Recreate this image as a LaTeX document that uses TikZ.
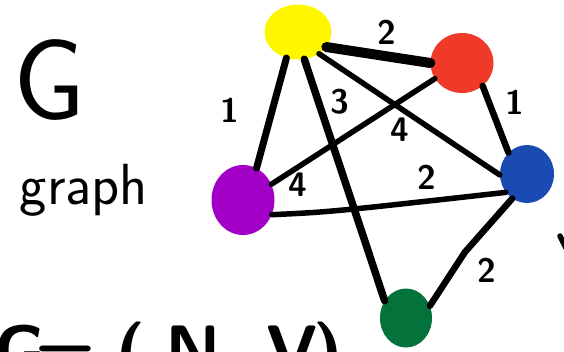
\documentclass[tikz,border=0pt]{standalone}
\usetikzlibrary{shapes.geometric}
\definecolor{blobyellow}{HTML}{FFF700}
\definecolor{blobred}{HTML}{EE3A26}
\definecolor{blobblue}{HTML}{1A4BB2}
\definecolor{blobpurple}{HTML}{A200C6}
\definecolor{blobgreen}{HTML}{03723B}

\begin{document}
\begin{tikzpicture}[x=1pt,y=-1pt,
      blob/.style={ellipse,inner sep=0pt},
      edge/.style={line width=5.5pt,line cap=round},
      wlabel/.style={font=\fontsize{34}{34}\selectfont\sffamily\bfseries}]
    \useasboundingbox (0,0) rectangle (564,352);
    \clip (0,0) rectangle (564,352);
    % title text
    \node (gsym) at (50,80) {\fontsize{115}{115}\selectfont\sffamily G};
    \node (gword) at (84,190) {\fontsize{58}{58}\selectfont\sffamily graph};
    \node[anchor=base west,inner sep=0pt] (gdef) at (-6,374) {\fontsize{70}{70}\selectfont\sffamily\bfseries
      G\hspace{-10pt}=\hspace{20pt}(\hspace{20pt}N\hspace{12pt},\hspace{12pt}V\hspace{-4pt})};
    % vertices
    \node[blob,fill=blobyellow,minimum width=67pt,minimum height=55pt] (yel) at (298,32) {};
    \node[blob,fill=blobred,minimum width=63pt,minimum height=60pt] (red) at (462,63) {};
    \node[blob,fill=blobblue,minimum width=54pt,minimum height=58pt] (blu) at (527,174) {};
    \node[blob,fill=blobpurple,minimum width=63pt,minimum height=70pt] (pur) at (243,200) {};
    \node[blob,fill=blobgreen,minimum width=52pt,minimum height=59pt] (grn) at (406,318) {};
    % edges
    \draw[edge,line width=10pt] (yel.-28) -- (red.180);
    \draw[edge,line width=7pt] (yel.-114) -- (pur.67);
    \draw[edge,line width=7.5pt] (yel.-77) .. controls (345,180) .. (grn.141);
    \draw[edge] (yel.-46) -- (blu.182);
    \draw[edge] (red.-150) -- (pur.29);
    \draw[edge,line width=6.5pt] (red.-48) -- (blu.131);
    \draw[edge] (pur.-27) .. controls (330,212) .. (blu.221);
    \draw[edge,line width=6.5pt] (blu.239) -- (465,252) -- (grn.27);
    \draw[edge] (560,236) -- (566,248);
    % weights
    \node[wlabel] (w1) at (387,32) {2};
    \node[wlabel] (w2) at (230,110) {1};
    \node[wlabel] (w3) at (340,102) {3};
    \node[wlabel] (w4) at (400,130) {4};
    \node[wlabel] (w5) at (515,102) {1};
    \node[wlabel] (w6) at (298,185) {4};
    \node[wlabel] (w7) at (427,177) {2};
    \node[wlabel] (w8) at (487,270) {2};
\end{tikzpicture}
\end{document}
